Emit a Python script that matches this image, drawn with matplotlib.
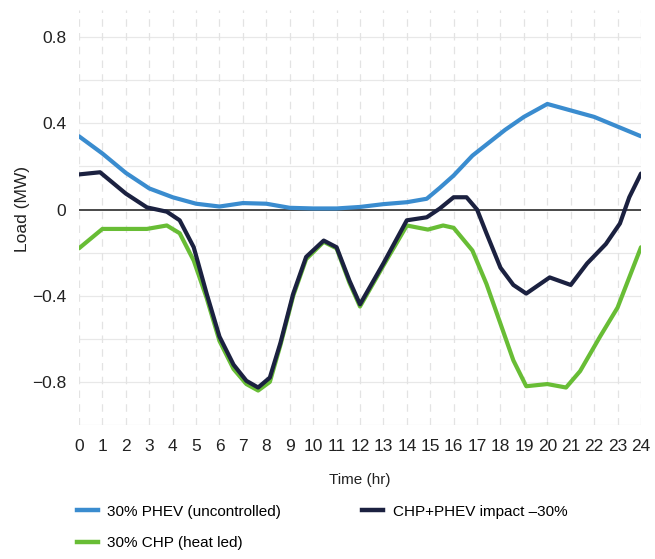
import matplotlib.pyplot as plt
from matplotlib.lines import Line2D

plt.rcParams['font.family'] = ['Liberation Sans', 'DejaVu Sans']

# hours and loads (MW)
hours_phev = [0, 1, 2, 3, 4, 5, 6, 7, 8, 9, 10, 11, 12, 13, 14, 14.85, 15.4, 16, 16.8,
              17.5, 18.2, 19, 20, 21, 22, 23, 24]
phev = [0.34, 0.26, 0.17, 0.098, 0.057, 0.027, 0.014, 0.03, 0.027, 0.008, 0.005, 0.005,
        0.012, 0.025, 0.034, 0.05, 0.1, 0.158, 0.25, 0.31, 0.37, 0.43, 0.49, 0.46, 0.43,
        0.385, 0.34]

hours_chp = [0, 1, 2, 2.9, 3.75, 4.3, 4.9, 5.45, 6, 6.6, 7.15, 7.65, 8.15, 8.6, 9.15,
             9.7, 10.45, 11, 11.55, 12, 13, 14, 14.9, 15.55, 16, 16.8, 17.4, 18, 18.55,
             19.1, 20, 20.8, 21.4, 22.25, 23, 23.5, 24]
chp = [-0.18, -0.09, -0.09, -0.09, -0.074, -0.11, -0.237, -0.41, -0.61, -0.74, -0.81,
       -0.84, -0.8, -0.63, -0.4, -0.23, -0.15, -0.18, -0.34, -0.45, -0.26, -0.074, -0.093,
       -0.074, -0.085, -0.19, -0.345, -0.53, -0.7, -0.82, -0.81, -0.826, -0.75, -0.59,
       -0.455, -0.315, -0.175]

hours_imp = [0, 0.9, 2, 2.9, 3.75, 4.3, 4.9, 5.45, 6, 6.6, 7.15, 7.65, 8.15, 8.6, 9.15,
             9.7, 10.45, 11, 11.55, 12, 13, 14, 14.85, 15.4, 16, 16.55, 17, 17.4, 18,
             18.55, 19.1, 19.7, 20.1, 21, 21.7, 22.5, 23.1, 23.5, 24]
impact = [0.163, 0.173, 0.074, 0.01, -0.01, -0.05, -0.175, -0.39, -0.59, -0.72, -0.795,
          -0.826, -0.78, -0.62, -0.39, -0.22, -0.144, -0.175, -0.33, -0.44, -0.25, -0.05,
          -0.036, 0.004, 0.057, 0.057, 0.0, -0.11, -0.27, -0.35, -0.39, -0.345, -0.315,
          -0.35, -0.25, -0.16, -0.065, 0.057, 0.167]

blue = '#3a8ccf'
navy = '#1b2140'
green = '#68bd35'

fig = plt.figure(figsize=(6.55, 5.59), dpi=100)
ax = fig.add_axes([0.1206, 0.2397, 0.858, 0.742])

ax.set_xlim(0, 24)
ax.set_ylim(-1.0, 0.925)

# grid: solid horizontal, dashed vertical
for yv in [-1.0, -0.8, -0.6, -0.4, -0.2, 0.2, 0.4, 0.6, 0.8]:
    ax.axhline(yv, color='#e8e8e8', lw=0.9, zorder=0)
for xv in range(0, 25):
    ax.axvline(xv, color='#e3e3e3', lw=0.9, ls=(0, (6, 5)), zorder=0)
ax.axhline(0, color='#3a3a3a', lw=1.3, zorder=1)

kw = dict(lw=3.0, solid_capstyle='round', solid_joinstyle='round')
ax.plot(hours_phev, phev, color=blue, zorder=3, **kw)
ax.plot(hours_chp, chp, color=green, zorder=3, **kw)
ax.plot(hours_imp, impact, color=navy, zorder=4, **kw)

for s in ax.spines.values():
    s.set_visible(False)
ax.set_xticks(range(0, 25))
ax.set_yticks([-0.8, -0.4, 0, 0.4, 0.8])
ax.set_yticklabels(['\u22120.8', '\u22120.4', '0', '0.4', '0.8'])
ax.tick_params(length=0, labelsize=12.5, colors='#222222')
ax.tick_params(axis='x', pad=10)
ax.tick_params(axis='y', pad=9)

ax.set_xlabel('Time (hr)', fontsize=11, color='#222222', labelpad=14)
ax.set_ylabel('Load (MW)', fontsize=12.5, color='#222222')
ax.yaxis.set_label_coords(-0.087, 0.52)

handles = [Line2D([], [], color=blue, lw=3.2),
           Line2D([], [], color=green, lw=3.2),
           Line2D([], [], color=navy, lw=3.2)]
labels = ['30% PHEV (uncontrolled)', '30% CHP (heat led)', 'CHP+PHEV impact \u201330%']
fig.legend(handles, labels, loc='upper left', bbox_to_anchor=(0.117, 0.097),
           ncol=2, frameon=False, fontsize=11, handlelength=1.4, handletextpad=0.6,
           columnspacing=5.3, labelspacing=1.15, borderaxespad=0, borderpad=0)

fig.savefig('out.png', dpi=100)
